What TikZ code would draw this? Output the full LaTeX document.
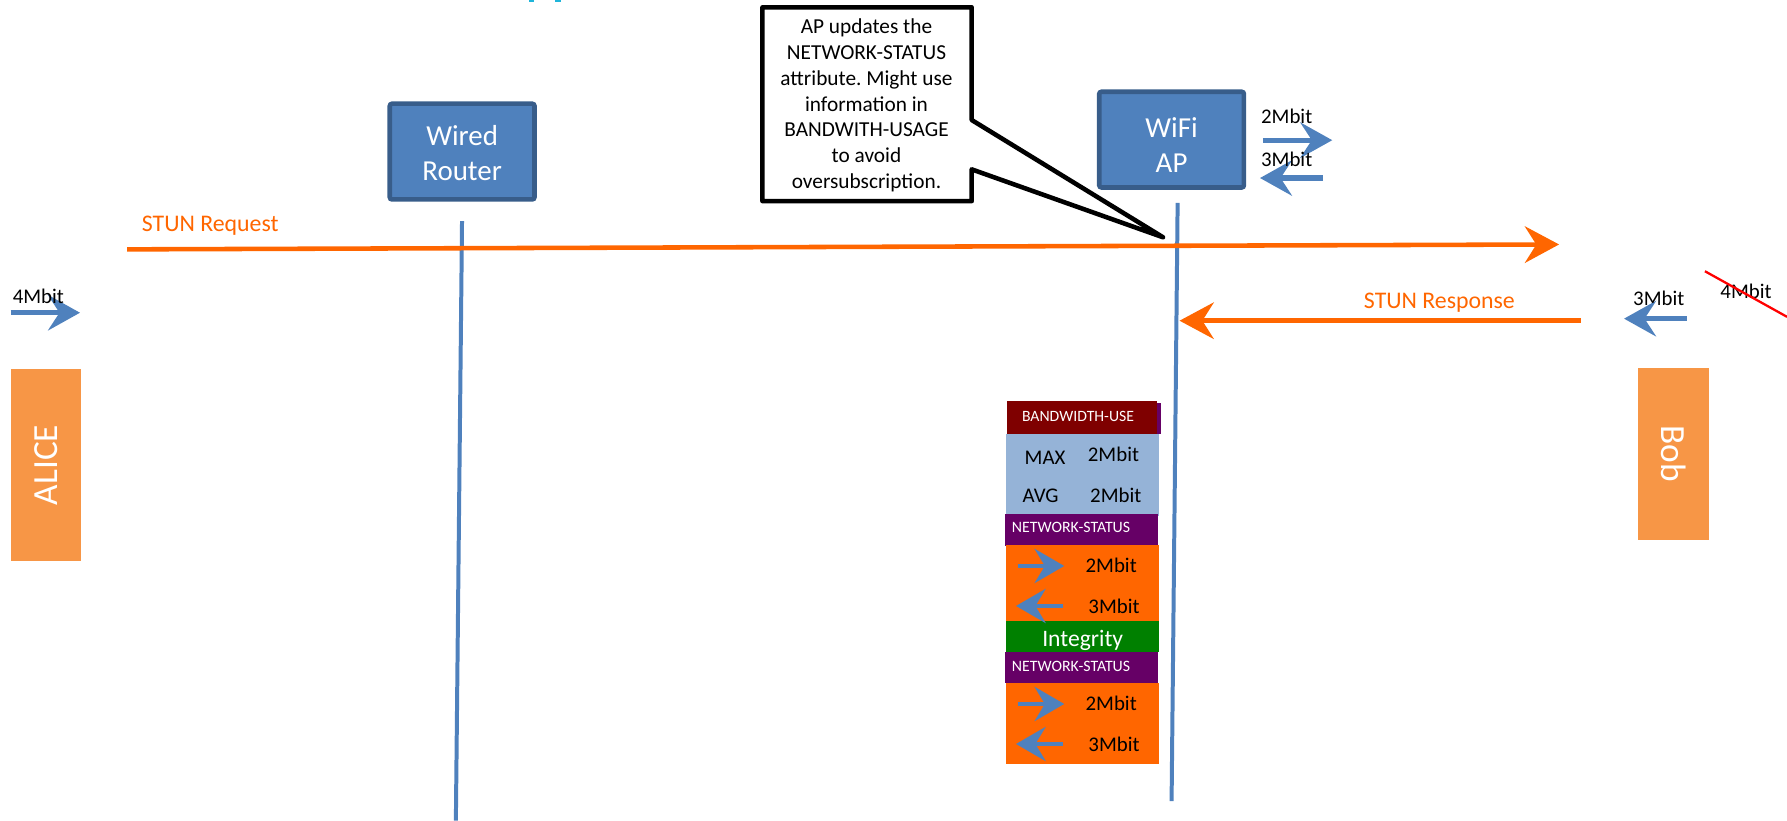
\documentclass[tikz,border=0pt]{standalone}
\usepackage{fontspec}
\setmainfont{Carlito}
\usetikzlibrary{arrows.meta}
\frenchspacing
\definecolor{bfill}{HTML}{4F81BD}
\definecolor{bborder}{HTML}{385D8A}
\definecolor{stuno}{HTML}{FF6600}
\definecolor{peerc}{HTML}{F79646}
\definecolor{lblue}{HTML}{95B3D7}
\definecolor{dred}{HTML}{7F0000}
\definecolor{purp}{HTML}{660066}
\definecolor{grn}{HTML}{008000}
\definecolor{cyanfrag}{HTML}{1FB5DA}
\tikzset{
  devbox/.style={fill=bfill, draw=bborder, line width=4pt, rounded corners=2pt,
    minimum width=127pt, minimum height=84pt, inner sep=0pt},
  devtxt/.style={text=white, align=center, inner sep=0pt, font=\fontsize{25.4}{31}\selectfont},
  peer/.style={fill=peerc, text=white, inner sep=0pt, font=\fontsize{31}{37}\selectfont},
  life/.style={draw=bfill, line width=3.5pt},
  stun/.style={draw=stuno, line width=4pt, -{Stealth[length=30pt,width=32pt,inset=10pt]}},
  stunlbl/.style={text=stuno, inner sep=0pt, anchor=base, font=\fontsize{20.9}{25}\selectfont},
  rate/.style={inner sep=0pt, anchor=base, font=\fontsize{18.3}{22}\selectfont},
  smallarr/.style={draw=bfill, line width=4.5pt, -{Stealth[length=28pt,width=31pt,inset=10pt]}},
  stackarr/.style={draw=bfill, line width=3.5pt, -{Stealth[length=26pt,width=30pt,inset=9pt]}},
  hdr/.style={text=white, inner sep=0pt, font=\fontsize{13.9}{16}\selectfont},
  callout/.style={draw=black, fill=white, line width=4pt, line join=round},
}
\begin{document}
\begin{tikzpicture}[x=1pt,y=-1pt]
\useasboundingbox (0,0) rectangle (1568,720);

% clipped fragment at the top edge
\fill[cyanfrag] (464,0) rectangle (468.5,1.8);
\fill[cyanfrag] (487,0) rectangle (492,1.8);

% lifelines
\coordinate (rtop) at (405.4,194);
\coordinate (rbot) at (400,720);
\coordinate (atop) at (1033.3,178);
\coordinate (abot) at (1028,703);
\draw[life] (rtop) -- (rbot);
\draw[life] (atop) -- (abot);

% devices
\node[devbox] (router) at (405.5,133) {};
\node[devtxt] (routertxt) at (405.5,134.5) {Wired\\Router};
\node[devbox] (ap) at (1028,122.5) {};
\node[devtxt] (aptxt) at (1028,127) {WiFi\\AP};

% peers
\node[peer, rotate=90, minimum width=168pt, minimum height=61.3pt] (alice) at (40.3,408) {ALICE};
\node[peer, rotate=-90, minimum width=151pt, minimum height=62.6pt] (bob) at (1468.5,398.3) {Bob};

% STUN request / response
\coordinate (reqS) at (111.6,218.8);
\coordinate (reqE) at (1368,214.5);
\draw[stun] (reqS) -- (reqE);
\node[stunlbl] (reqL) at (184.5,203.2) {STUN Request};
\coordinate (resS) at (1387,281.4);
\coordinate (resE) at (1035,281.4);
\draw[stun] (resS) -- (resE);
\node[stunlbl] (resL) at (1263,270.5) {STUN Response};

% rate arrows
\coordinate (a4s) at (9.4,274.4); \coordinate (a4e) at (70.2,274.4);
\draw[smallarr] (a4s) -- (a4e);
\node[rate] (l4) at (33.7,266.2) {4Mbit};
\coordinate (ap2s) at (1108,123); \coordinate (ap2e) at (1169,123);
\draw[smallarr] (ap2s) -- (ap2e);
\node[rate] (lap2) at (1129,108.3) {2Mbit};
\coordinate (ap3s) at (1161,156.2); \coordinate (ap3e) at (1105.6,156.2);
\draw[smallarr] (ap3s) -- (ap3e);
\node[rate] (lap3) at (1129,146.3) {3Mbit};
\coordinate (b3s) at (1480,279.6); \coordinate (b3e) at (1425,279.6);
\draw[smallarr] (b3s) -- (b3e);
\node[rate] (lb3) at (1455.5,267.9) {3Mbit};
\node[rate] (lb4) at (1532,261.9) {4Mbit};
\coordinate (xa) at (1496,238); \coordinate (xb) at (1568,278);
\draw[red, line width=2pt] (xa) -- (xb);

% callout
\coordinate (tip) at (1020.5,208.2);
\draw[callout] (669,6.4) -- (852.6,6.4) -- (852.6,105.3) -- (tip) -- (852.6,148.6)
  -- (852.6,176.5) -- (669,176.5) -- cycle;
\node[align=center, inner sep=0pt, font=\fontsize{18.7}{22.6}\selectfont] (note) at (760.3,92.6)
  {AP updates the\\NETWORK-STATUS\\attribute. Might use\\information in\\BANDWITH-USAGE\\to avoid\\oversubscription.};

% message stack
\fill[purp] (1005,353.5) rectangle (1018.7,381);
\fill[dred] (883.6,351.8) rectangle (1015,381);
\fill[lblue] (882.7,381) rectangle (1017,452.8);
\fill[purp] (881.8,451.3) rectangle (1015.8,478.8);
\fill[stuno] (882.7,478.2) rectangle (1017,545);
\fill[grn] (882.7,545) rectangle (1017,571.8);
\fill[purp] (881.8,571.8) rectangle (1015.8,599.6);
\fill[stuno] (882.7,599.6) rectangle (1017,670.6);

\node[hdr, anchor=base, font=\fontsize{13.8}{16}\selectfont] (bwh) at (945.9,370) {BANDWIDTH-USE};
\node[rate] (maxl) at (917,407.9) {MAX};
\node[rate] (maxv) at (977,405.2) {2Mbit};
\node[rate] (avgl) at (913,441.1) {AVG};
\node[rate] (avgv) at (979,440.9) {2Mbit};
\node[hdr, anchor=base west] (ns1) at (887.7,467.5) {NETWORK-STATUS};
\coordinate (s1a) at (893,496.6); \coordinate (s1b) at (933.8,496.6);
\draw[stackarr] (s1a) -- (s1b);
\node[rate] (s1u) at (975,502.7) {2Mbit};
\coordinate (s2a) at (932.4,531.7); \coordinate (s2b) at (891.5,531.7);
\draw[stackarr] (s2a) -- (s2b);
\node[rate] (s1d) at (977.5,538.3) {3Mbit};
\node[text=white, inner sep=0pt, anchor=base, font=\fontsize{20.7}{24}\selectfont] (integ) at (950,567) {Integrity};
\node[hdr, anchor=base west] (ns2) at (887.7,588.9) {NETWORK-STATUS};
\coordinate (s3a) at (893,617.7); \coordinate (s3b) at (933.8,617.7);
\draw[stackarr] (s3a) -- (s3b);
\node[rate] (s2u) at (975,623.6) {2Mbit};
\coordinate (s4a) at (932.4,652.8); \coordinate (s4b) at (891.5,652.8);
\draw[stackarr] (s4a) -- (s4b);
\node[rate] (s2d) at (977.5,659.6) {3Mbit};
\end{tikzpicture}
\end{document}
